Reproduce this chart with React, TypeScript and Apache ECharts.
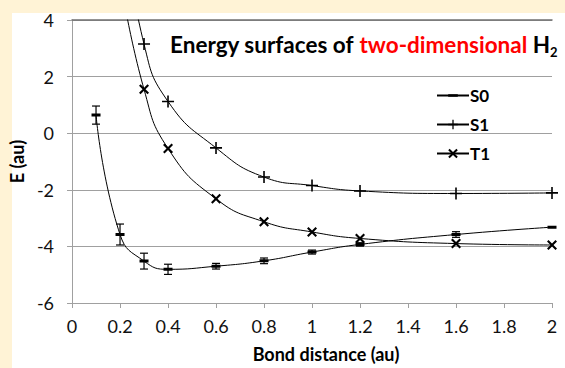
import React, { useEffect, useRef } from "react";
import * as echarts from "echarts";

// ---- data ----
const xS0 = [0.1, 0.2, 0.3, 0.4, 0.6, 0.8, 1.0, 1.2, 1.6, 2.0];
const yS0 = [0.64, -3.58, -4.52, -4.81, -4.7, -4.51, -4.2, -3.93, -3.58, -3.32];
const errS0 = [0.32, 0.37, 0.28, 0.18, 0.1, 0.1, 0.07, 0.06, 0.1, 0];

const xS1 = [0.2, 0.3, 0.4, 0.6, 0.8, 1.0, 1.2, 1.6, 2.0];
const yS1 = [8.0, 3.15, 1.12, -0.52, -1.55, -1.85, -2.04, -2.13, -2.11];

const xT1 = [0.2, 0.3, 0.4, 0.6, 0.8, 1.0, 1.2, 1.6, 2.0];
const yT1 = [5.5, 1.55, -0.54, -2.32, -3.13, -3.49, -3.72, -3.9, -3.95];

const seriesNames = ["S0", "S1", "T1"];
const xTicks = { min: 0, max: 2, interval: 0.2 };
const yTicks = { min: -6, max: 4, interval: 2 };

const FONT = "Lato";

const PLUS = "path://M5.2,0H6.8V5.2H12V6.8H6.8V12H5.2V6.8H0V5.2H5.2Z";
const CROSS =
  "path://M0,1.5L1.5,0L5,3.5L8.5,0L10,1.5L6.5,5L10,8.5L8.5,10L5,6.5L1.5,10L0,8.5L3.5,5Z";
// dash with invisible padding points so it stays flat inside a square box
const DASH = "path://M5,-4L5.01,-4M0,0H10V3H0ZM5,7L5.01,7";

export default function App() {
  const ref = useRef<HTMLDivElement>(null);
  useEffect(() => {
    if (!ref.current) return;
    const chart = echarts.init(ref.current, null, { renderer: "svg" });
    const pairs = (xs: number[], ys: number[]) => xs.map((x, i) => [x, ys[i]]);
    const errData = xS0
      .map((x, i) => [x, yS0[i] - errS0[i], yS0[i] + errS0[i]])
      .filter((d, i) => errS0[i] > 0);

    const lineCommon = {
      type: "line",
      smooth: 0.5,
      clip: true,
      lineStyle: { color: "#000", width: 1 },
      itemStyle: { color: "#000", borderWidth: 0 },
      z: 3,
    };

    const bold = (size: number, color = "#000") => ({
      fontFamily: FONT,
      fontWeight: "bold",
      fontSize: size,
      color,
    });

    chart.setOption({
      animation: false,
      backgroundColor: "#FFF3D6",
      graphic: [
        {
          type: "rect",
          z: -10,
          silent: true,
          shape: { x: 12, y: 13, width: 560, height: 360 },
          style: { fill: "#FFFFFF" },
        },
      ],
      title: {
        text: "{b|Energy surfaces of }{r|two-dimensional}{b| H}{s|2}",
        left: 165,
        top: 25,
        textStyle: {
          rich: {
            b: { ...bold(22.5), lineHeight: 28, verticalAlign: "middle" },
            r: { ...bold(22.5, "#FF0000"), lineHeight: 28, verticalAlign: "middle" },
            s: { ...bold(13), verticalAlign: "bottom" },
          },
        },
      },
      legend: {
        data: seriesNames,
        orient: "vertical",
        left: 431,
        top: 82,
        itemWidth: 32,
        itemHeight: 12,
        itemGap: 12,
        textStyle: { ...bold(17), padding: [0, 0, 0, -4] },
      },
      grid: { left: 71, top: 20, right: 13, bottom: 56, containLabel: false },
      xAxis: [
        {
          type: "value",
          ...xTicks,
          name: "Bond distance (au)",
          nameLocation: "middle",
          nameGap: 42,
          nameTextStyle: { ...bold(18), padding: [0, 0, 0, 28] },
          axisLine: { show: true, onZero: false, lineStyle: { color: "#A0A0A0", width: 1 } },
          axisTick: { show: true, length: 5, lineStyle: { color: "#A0A0A0" } },
          splitLine: { show: false },
          axisLabel: { fontFamily: FONT, fontSize: 18, color: "#111", margin: 14 },
        },
        {
          type: "value",
          ...xTicks,
          position: "top",
          axisLine: { show: true, onZero: false, lineStyle: { color: "#707070", width: 1.5 } },
          axisTick: { show: false },
          axisLabel: { show: false },
          splitLine: { show: false },
        },
      ],
      yAxis: {
        type: "value",
        ...yTicks,
        name: "E (au)",
        nameLocation: "middle",
        nameGap: 44,
        nameTextStyle: bold(18),
        axisLine: { show: true, onZero: false, lineStyle: { color: "#A0A0A0", width: 1 } },
        axisTick: { show: true, length: 5, lineStyle: { color: "#A0A0A0" } },
        splitLine: { show: true, lineStyle: { color: "#A0A0A0", width: 1 } },
        axisLabel: { fontFamily: FONT, fontSize: 18, color: "#111", margin: 18 },
      },
      series: [
        {
          ...lineCommon,
          name: "S0",
          data: pairs(xS0, yS0),
          symbol: DASH,
          symbolSize: [9, 11],
        },
        {
          ...lineCommon,
          name: "S1",
          data: pairs(xS1, yS1),
          symbol: PLUS,
          symbolSize: 12,
        },
        {
          ...lineCommon,
          name: "T1",
          data: pairs(xT1, yT1),
          symbol: CROSS,
          symbolSize: 10,
        },
        {
          type: "custom",
          name: "S0 error",
          z: 4,
          data: errData,
          renderItem: (params: any, api: any) => {
            const x = api.value(0);
            const lo = api.coord([x, api.value(1)]);
            const hi = api.coord([x, api.value(2)]);
            const hw = 4;
            const style = { stroke: "#000", lineWidth: 1.2 };
            return {
              type: "group",
              children: [
                { type: "line", shape: { x1: lo[0], y1: lo[1], x2: hi[0], y2: hi[1] }, style },
                { type: "line", shape: { x1: lo[0] - hw, y1: lo[1], x2: lo[0] + hw, y2: lo[1] }, style },
                { type: "line", shape: { x1: hi[0] - hw, y1: hi[1], x2: hi[0] + hw, y2: hi[1] }, style },
              ],
            };
          },
        },
      ],
    });
    return () => chart.dispose();
  }, []);
  return (
    <div
      ref={ref}
      style={{ position: "absolute", left: 0, top: 0, width: 565, height: 368 }}
    />
  );
}
